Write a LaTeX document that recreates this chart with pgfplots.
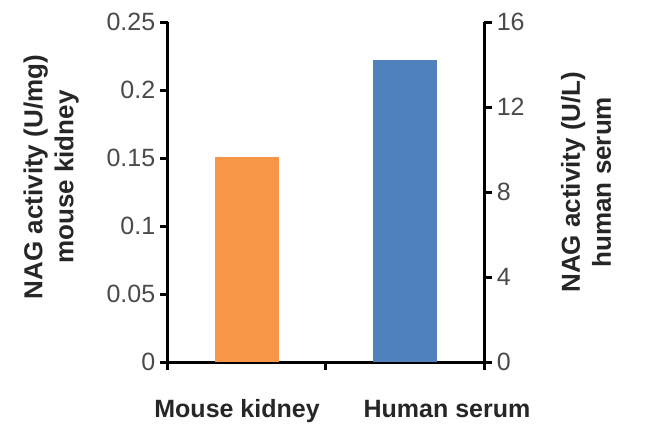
\documentclass[border=0pt]{standalone}
\usepackage{fontspec}
\setmainfont{Liberation Sans}
\usepackage{pgfplots}
\pgfplotsset{compat=1.18}
\definecolor{myorange}{HTML}{F79646}
\definecolor{myblue}{HTML}{4F81BD}
\definecolor{tickgray}{HTML}{4A4A4A}
\definecolor{labeldark}{HTML}{262626}
\begin{document}
\begin{tikzpicture}
\begin{axis}[
  width=316pt, height=340pt, scale only axis,
  xmin=-0.5, xmax=1.5, ymin=0, ymax=0.25,
  axis lines*=left,
  line width=3pt,
  axis line style={black},
  tick align=outside,
  tick style={black, line width=3pt},
  major tick length=8pt,
  tick label style={font=\fontsize{25}{30}\selectfont, text=tickgray},
  /pgf/number format/assume math mode=true,
  scaled y ticks=false,
  bar width=64pt,
  clip=false,
  ytick={0,0.05,0.1,0.15,0.2,0.25},
  yticklabels={0,0.05,0.1,0.15,0.2,0.25},
  xtick={-0.5,0.5,1.5},
  xticklabels={},
  extra x ticks={-0.063,1.266},
  extra x tick labels={Mouse kidney,Human serum},
  extra x tick style={major tick length=0pt, tick label style={font=\bfseries\fontsize{25}{30}\selectfont, text=labeldark, yshift=-33pt}},
  ylabel={NAG activity (U/mg)\\mouse kidney},
  ylabel style={at={(axis description cs:-0.37,0.544)}, anchor=center, align=center, font=\bfseries\fontsize{26}{31}\selectfont, text=labeldark},
]
\addplot[ybar, fill=myorange, draw=none, line width=0pt] coordinates {(0,0.151)};
\end{axis}
\begin{axis}[
  width=316pt, height=340pt, scale only axis,
  xmin=-0.5, xmax=1.5, ymin=0, ymax=16,
  axis y line*=right,
  axis x line=none,
  line width=3pt,
  axis line style={black},
  tick align=outside,
  tick style={black, line width=3pt},
  major tick length=8pt,
  tick label style={font=\fontsize{25}{30}\selectfont, text=tickgray},
  /pgf/number format/assume math mode=true,
  bar width=64pt,
  clip=false,
  ytick={0,4,8,12,16},
  ylabel={NAG activity (U/L)\\human serum},
  ylabel style={at={(axis description cs:1.323,0.529)}, anchor=center, align=center, font=\bfseries\fontsize{26}{31}\selectfont, text=labeldark},
]
\addplot[ybar, fill=myblue, draw=none, line width=0pt] coordinates {(1,14.2)};
\path (axis cs:-0.5,0) ++(-168pt,-78pt) rectangle ++(650pt,440pt);
\end{axis}
\end{tikzpicture}
\end{document}
